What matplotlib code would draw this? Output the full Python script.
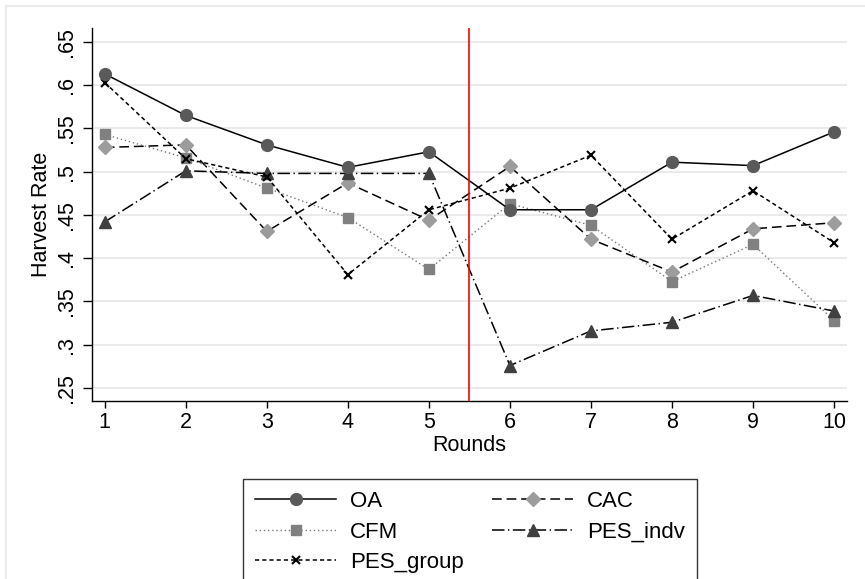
import numpy as np
import matplotlib.pyplot as plt
from matplotlib.lines import Line2D

plt.rcParams['font.family'] = ['Liberation Sans', 'DejaVu Sans']
plt.rcParams['lines.scale_dashes'] = False

rounds = [1, 2, 3, 4, 5, 6, 7, 8, 9, 10]
oa = [0.613, 0.565, 0.531, 0.505, 0.523, 0.456, 0.456, 0.511, 0.507, 0.546]
cac = [0.528, 0.531, 0.431, 0.487, 0.444, 0.506, 0.422, 0.384, 0.434, 0.441]
cfm = [0.543, 0.516, 0.481, 0.447, 0.387, 0.463, 0.438, 0.373, 0.416, 0.328]
pes_indv = [0.442, 0.501, 0.498, 0.498, 0.498, 0.276, 0.316, 0.326, 0.357, 0.339]
pes_group = [0.603, 0.515, 0.494, 0.381, 0.456, 0.481, 0.519, 0.422, 0.478, 0.418]
yticks = [0.25, 0.3, 0.35, 0.4, 0.45, 0.5, 0.55, 0.6, 0.65]
ytick_labels = ['.25', '.3', '.35', '.4', '.45', '.5', '.55', '.6', '.65']

fig = plt.figure(figsize=(8.65, 5.79), dpi=100)
ax = fig.add_axes([0.1064, 0.3074, 0.8728, 0.6442])

# light outer border like stata graph region
fig.add_artist(Line2D([6/865, 1], [1-6/579, 1-6/579], color='#ebebeb', lw=1.5))
fig.add_artist(Line2D([6/865, 6/865], [0, 1-6/579], color='#ebebeb', lw=1.5))

l_oa, = ax.plot(rounds, oa, color='black', lw=1.1, ls='-', marker='o',
                ms=8.5, mfc='#5a5a5a', mec='#5a5a5a', label='OA', zorder=5)
l_cac, = ax.plot(rounds, cac, color='black', lw=1.1, ls=(0, (7, 3.5)), marker='D',
                 ms=7.5, mfc='#9c9c9c', mec='#9c9c9c', label='CAC', zorder=4)
l_cfm, = ax.plot(rounds, cfm, color='#777777', lw=1.0, ls=(0, (1, 2)), marker='s',
                 ms=7.5, mfc='#808080', mec='#808080', label='CFM', zorder=4)
l_indv, = ax.plot(rounds, pes_indv, color='black', lw=1.1, ls=(0, (9, 2.5, 1, 2.5)), marker='^',
                  ms=9, mfc='#404040', mec='#404040', label='PES_indv', zorder=4)
l_grp, = ax.plot(rounds, pes_group, color='black', lw=1.1, ls=(0, (3, 2.2)), marker='x',
                 ms=5.5, mew=1.5, mfc='black', mec='black', label='PES_group', zorder=4)

ax.axvline(5.5, color='red', lw=1.2, zorder=6)

ax.set_xlim(0.843, 10.16)
ax.set_ylim(0.235, 0.666)
ax.set_xticks(rounds)
ax.set_yticks(yticks)
ax.set_yticklabels(ytick_labels, rotation=90, va='center')
ax.tick_params(axis='y', length=6.5, width=1, pad=4, labelsize=15.5)
ax.tick_params(axis='x', length=5, width=1, pad=3, labelsize=15.5)
ax.yaxis.grid(True, color='#eaeaea', lw=1.5)
ax.set_axisbelow(True)
for s in ['top', 'right']:
    ax.spines[s].set_visible(False)
for s in ['left', 'bottom']:
    ax.spines[s].set_linewidth(1)
ax.set_xlabel('Rounds', fontsize=15.5, labelpad=1)
ax.set_ylabel('Harvest Rate', fontsize=15.5, labelpad=3)

leg = fig.legend([l_oa, l_cfm, l_grp, l_cac, l_indv],
                 ['OA', 'CFM', 'PES_group', 'CAC', 'PES_indv'],
                 ncol=2, loc='upper left', bbox_to_anchor=(243/865, 1-479/579),
                 borderaxespad=0, fontsize=16, handlelength=3.65, handletextpad=0.6,
                 columnspacing=1.3, labelspacing=0.42, borderpad=0.55,
                 fancybox=False, frameon=True)
leg.get_frame().set_edgecolor('black')
leg.get_frame().set_linewidth(1)

plt.savefig('out.png', dpi=100)
